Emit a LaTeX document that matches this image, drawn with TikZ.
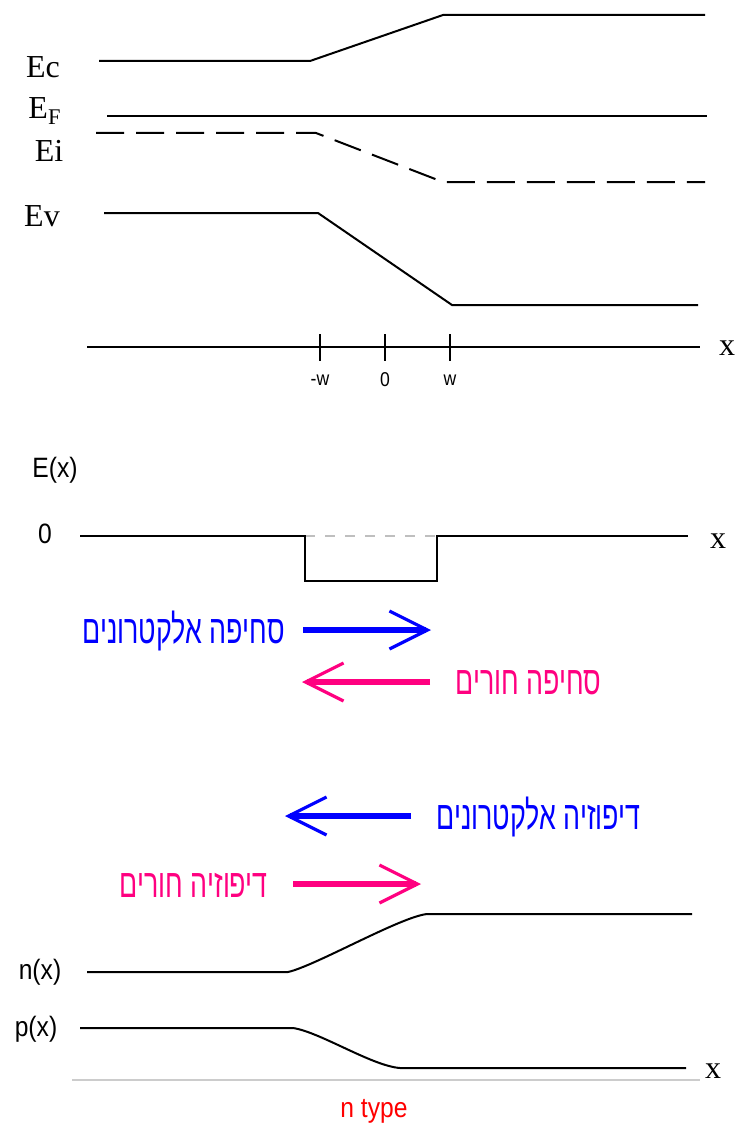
\documentclass[tikz,border=0pt]{standalone}
\usepackage{fontspec}
\setmainfont{Liberation Serif}
\newfontfamily\hebfont[Script=Hebrew,FakeStretch=0.67]{Liberation Sans}
\newfontfamily\narrowsf[FakeStretch=0.88]{Liberation Sans}
\TeXXeTstate=1
\usetikzlibrary{positioning,arrows.meta}
\definecolor{holepink}{RGB}{255,0,128}
\tikzset{
  level/.style={line width=1pt, draw=black},
  ilevel/.style={level, dash pattern=on 14pt off 6pt},
  zeroline/.style={line width=0.8pt, draw=black!25, dash pattern=on 5pt off 5pt},
  flow/.style={line width=3pt, -{Straight Barb[length=19pt,width=19pt,line width=1.6pt]}},
  elec/.style={flow, draw=blue},
  hole/.style={flow, draw=holepink},
  bandlabel/.style={font=\fontsize{16}{18}\selectfont, inner sep=0pt},
  axlabel/.style={font=\narrowsf\fontsize{14}{16}\selectfont, inner sep=0pt},
  ticklabel/.style={font=\narrowsf\fontsize{10}{12}\selectfont, inner sep=0pt},
  heb/.style={font=\hebfont\fontsize{20}{22}\selectfont, inner sep=0pt}
}
\begin{document}
\begin{tikzpicture}[x=0.5pt,y=-0.5pt]
    \path[use as bounding box] (0,0) rectangle (734,1129);

    % band diagram
    \node[bandlabel] (ec) at (43,67) {Ec};
    \node[bandlabel] (ef) at (45,111) {E$_{\mathrm{F}}$};
    \node[bandlabel] (ei) at (49,151) {Ei};
    \node[bandlabel] (ev) at (42,216) {Ev};

    \coordinate (ec0) at (99,61);
    \coordinate (ec1) at (310,61);
    \coordinate (ec2) at (443,15);
    \coordinate (ec3) at (705,15);
    \draw[level] (ec0) -- (ec1) -- (ec2) -- (ec3);

    \coordinate (ef0) at (107,116);
    \coordinate (ef1) at (707,116);
    \draw[level] (ef0) -- (ef1);

    \coordinate (ei0) at (96,133);
    \coordinate (ei1) at (316,133);
    \coordinate (ei2) at (443,182);
    \coordinate (ei3) at (705,182);
    \draw[ilevel] (ei0) -- (ei1) -- (ei2) -- (ei3);

    \coordinate (ev0) at (104,213);
    \coordinate (ev1) at (318,213);
    \coordinate (ev2) at (452,305);
    \coordinate (ev3) at (698,305);
    \draw[level] (ev0) -- (ev1) -- (ev2) -- (ev3);

    % x axis
    \coordinate (ax0) at (87,347);
    \coordinate (ax1) at (700,347);
    \draw[level] (ax0) -- (ax1);
    \node[bandlabel] (xa) at (727,348) {x};
    \foreach \xx/\lab/\nm in {320/-w/mw,385/0/zw,450/w/pw}{
      \draw[level] (\xx,334) -- (\xx,361);
      \node[ticklabel] (t\nm) at (\xx,380) {\lab};
    }

    % field
    \node[axlabel] (efield) at (55,470) {E(x)};
    \node[axlabel] (ezero) at (45,534) {0};
    \node[bandlabel] (xb) at (718,541) {x};
    \coordinate (f0) at (80,536);
    \coordinate (f1) at (305,536);
    \coordinate (f2) at (305,581);
    \coordinate (f3) at (437,581);
    \coordinate (f4) at (437,536);
    \coordinate (f5) at (688,536);
    \draw[zeroline] (f1) -- (f4);
    \draw[level] (f0) -- (f1) -- (f2) -- (f3) -- (f4) -- (f5);

    % drift
    \coordinate (de0) at (303,630);
    \coordinate (de1) at (431,630);
    \draw[elec] (de0) -- (de1);
    \node[heb, text=blue, anchor=east] (driftel) at (285,631) {\beginR סחיפה אלקטרונים\endR};

    \coordinate (dh0) at (430,682);
    \coordinate (dh1) at (302,682);
    \draw[hole] (dh0) -- (dh1);
    \node[heb, text=holepink, anchor=west] (drifth) at (455,683) {\beginR סחיפה חורים\endR};

    % diffusion
    \coordinate (fe0) at (411,816);
    \coordinate (fe1) at (285,816);
    \draw[elec] (fe0) -- (fe1);
    \node[heb, text=blue, anchor=west] (diffel) at (436,817) {\beginR דיפוזיה אלקטרונים\endR};

    \coordinate (fh0) at (293,884);
    \coordinate (fh1) at (421,884);
    \draw[hole] (fh0) -- (fh1);
    \node[heb, text=holepink, anchor=east] (diffh) at (268,885) {\beginR דיפוזיה חורים\endR};

    % carrier densities
    \node[axlabel] (nx) at (40,972) {n(x)};
    \node[axlabel] (px) at (36,1029) {p(x)};
    \node[bandlabel] (xc) at (713,1071) {x};

    \coordinate (n0) at (87,972);
    \coordinate (n1) at (288,972);
    \coordinate (n2) at (427,914);
    \coordinate (n3) at (692,914);
    \draw[level] (n0) -- (n1) .. controls (315,966) and (400,917) .. (n2) -- (n3);

    \coordinate (p0) at (80,1028);
    \coordinate (p1) at (293,1028);
    \coordinate (p2) at (400,1068);
    \coordinate (p3) at (686,1068);
    \draw[level] (p0) -- (p1) .. controls (320,1032) and (372,1066) .. (p2) -- (p3);

    \coordinate (g0) at (72,1080);
    \coordinate (g1) at (700,1080);
    \draw[line width=1pt, draw=black!20] (g0) -- (g1);

    \node[axlabel, text=red] (ntype) at (374,1111) {n type};
\end{tikzpicture}
\end{document}
